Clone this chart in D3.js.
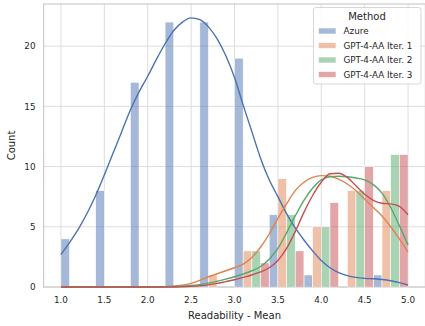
<!DOCTYPE html>
<html>
<head>
<meta charset="utf-8">
<script src="https://cdn.jsdelivr.net/npm/d3@7"></script>
<style>
  body { margin: 0; background: #fff; }
  text { font-family: "DejaVu Sans", sans-serif; fill: #262626; }
</style>
</head>
<body>
<script>
const width = 425;
const height = 326;

const methods = ["Azure", "GPT-4-AA Iter. 1", "GPT-4-AA Iter. 2", "GPT-4-AA Iter. 3"];
const colors = ["#4C72B0", "#DD8452", "#55A868", "#C44E52"];

// histogram bins (width 0.4) and counts per method
const binStarts = [1.0, 1.4, 1.8, 2.2, 2.6, 3.0, 3.4, 3.8, 4.2, 4.6];
const azureCounts = [4, 8, 17, 22, 22, 19, 6, 1, 0, 1];
const iter1Counts = [0, 0, 0, 0, 1, 3, 9, 5, 8, 8];
const iter2Counts = [0, 0, 0, 0, 0, 3, 6, 5, 8, 11];
const iter3Counts = [0, 0, 0, 0, 0, 2, 3, 7, 10, 11];

// kde curves
const kdeX = [1.0, 1.1, 1.2, 1.3, 1.4, 1.5, 1.6, 1.7, 1.8, 1.9,
  2.0, 2.1, 2.2, 2.3, 2.4, 2.5, 2.6, 2.7, 2.8, 2.9,
  3.0, 3.1, 3.2, 3.3, 3.4, 3.5, 3.6, 3.7, 3.8, 3.9,
  4.0, 4.1, 4.2, 4.3, 4.4, 4.5, 4.6, 4.7, 4.8, 4.9, 5.0];
const azureKde = [2.7, 3.7, 4.8, 6.1, 7.6, 9.3, 11.1, 12.9, 14.7, 16.2,
  17.5, 18.9, 20.2, 21.3, 22.0, 22.35, 22.2, 21.6, 20.6, 19.2,
  17.4, 15.1, 12.9, 10.7, 8.9, 7.5, 6.1, 4.9, 3.9, 3.0,
  2.2, 1.6, 1.2, 0.95, 0.8, 0.72, 0.68, 0.62, 0.52, 0.36, 0.17];
const iter1Kde = [0, 0, 0, 0, 0, 0, 0, 0, 0, 0,
  0, 0.01, 0.03, 0.07, 0.14, 0.3, 0.55, 0.85, 1.1, 1.35,
  1.6, 1.9, 2.45, 3.3, 4.4, 5.7, 6.9, 8.0, 8.7, 9.1,
  9.25, 9.2, 8.95, 8.55, 8.0, 7.3, 6.6, 5.9, 5.0, 4.0, 2.9];
const iter2Kde = [0, 0, 0, 0, 0, 0, 0, 0, 0, 0,
  0, 0, 0.02, 0.04, 0.07, 0.12, 0.2, 0.32, 0.48, 0.65,
  0.85, 1.08, 1.35, 1.7, 2.3, 3.2, 4.5, 5.9, 7.2, 8.2,
  8.9, 9.15, 9.2, 9.15, 9.05, 8.9, 8.5, 7.8, 6.6, 5.1, 3.5];
const iter3Kde = [0, 0, 0, 0, 0, 0, 0, 0, 0, 0,
  0, 0, 0, 0, 0.02, 0.05, 0.1, 0.18, 0.3, 0.45,
  0.6, 0.8, 1.0, 1.25, 1.6, 2.2, 3.2, 4.6, 6.2, 7.6,
  8.7, 9.4, 9.45, 9.1, 8.4, 7.7, 7.2, 6.95, 6.9, 6.7, 6.0];

const xTicks = [1.0, 1.5, 2.0, 2.5, 3.0, 3.5, 4.0, 4.5, 5.0];
const yTicks = [0, 5, 10, 15, 20];

const counts = [azureCounts, iter1Counts, iter2Counts, iter3Counts];
const kdes = [azureKde, iter1Kde, iter2Kde, iter3Kde];
const binWidth = 0.4;

const margin = {left: 43.6, right: 425.4, top: 4, bottom: 287};

const x = d3.scaleLinear().domain([0.8, 5.2]).range([margin.left, margin.right]);
const y = d3.scaleLinear().domain([0, 23.5]).range([margin.bottom, margin.top]);

const svg = d3.select("body").append("svg")
  .attr("width", width)
  .attr("height", height);

// grid
svg.append("g").selectAll("line")
  .data(xTicks).enter().append("line")
  .attr("x1", d => x(d)).attr("x2", d => x(d))
  .attr("y1", margin.top).attr("y2", margin.bottom)
  .attr("stroke", "#dddddd").attr("stroke-width", 1);
svg.append("g").selectAll("line")
  .data(yTicks).enter().append("line")
  .attr("x1", margin.left).attr("x2", margin.right)
  .attr("y1", d => y(d)).attr("y2", d => y(d))
  .attr("stroke", "#dddddd").attr("stroke-width", 1);

// spines
svg.append("rect")
  .attr("x", margin.left).attr("y", margin.top)
  .attr("width", margin.right - margin.left)
  .attr("height", margin.bottom - margin.top)
  .attr("fill", "none")
  .attr("stroke", "#cccccc").attr("stroke-width", 1.2);

// dodged histogram bars
const sub = d3.scaleBand().domain(d3.range(methods.length)).range([0, binWidth]).padding(0);

methods.forEach((m, j) => {
  svg.append("g").selectAll("rect")
    .data(binStarts.map((b, i) => ({b: b, v: counts[j][i]})).filter(d => d.v > 0))
    .enter().append("rect")
    .attr("x", d => x(d.b + sub(j)))
    .attr("width", d => x(d.b + sub(j) + sub.bandwidth()) - x(d.b + sub(j)))
    .attr("y", d => y(d.v))
    .attr("height", d => y(0) - y(d.v))
    .attr("fill", colors[j])
    .attr("fill-opacity", 0.5)
    .attr("stroke", "#fff")
    .attr("stroke-width", 0.6);
});

// kde lines
const line = d3.line()
  .x(d => x(d[0]))
  .y(d => y(d[1]))
  .curve(d3.curveMonotoneX);

methods.forEach((m, j) => {
  svg.append("path")
    .datum(kdeX.map((k, i) => [k, kdes[j][i]]))
    .attr("d", line)
    .attr("fill", "none")
    .attr("stroke", colors[j])
    .attr("stroke-width", 1.4);
});

// tick labels
svg.append("g").selectAll("text")
  .data(xTicks).enter().append("text")
  .attr("x", d => x(d)).attr("y", 303)
  .attr("text-anchor", "middle")
  .style("font-size", "8.8px")
  .text(d => d.toFixed(1));
svg.append("g").selectAll("text")
  .data(yTicks).enter().append("text")
  .attr("x", 35.5).attr("y", d => y(d) + 3.2)
  .attr("text-anchor", "end")
  .style("font-size", "8.8px")
  .text(d => d);

// axis labels
svg.append("text")
  .attr("x", (margin.left + margin.right) / 2).attr("y", 319)
  .attr("text-anchor", "middle")
  .style("font-size", "10px")
  .text("Readability - Mean");
svg.append("text")
  .attr("transform", `translate(15,${(margin.top + margin.bottom) / 2}) rotate(-90)`)
  .attr("text-anchor", "middle")
  .style("font-size", "10px")
  .text("Count");

// legend
const legend = svg.append("g").attr("transform", "translate(313.5,7.5)");
legend.append("rect")
  .attr("width", 107.5).attr("height", 76.5)
  .attr("rx", 2.5)
  .attr("fill", "#fff").attr("fill-opacity", 0.8)
  .attr("stroke", "#cccccc").attr("stroke-width", 0.8);
legend.append("text")
  .attr("x", 53.5).attr("y", 12)
  .attr("text-anchor", "middle")
  .style("font-size", "10px")
  .text("Method");
methods.forEach((m, j) => {
  const row = legend.append("g").attr("transform", `translate(0,${23.5 + j * 14.5})`);
  row.append("rect")
    .attr("x", 5).attr("y", -3)
    .attr("width", 17.5).attr("height", 6)
    .attr("fill", colors[j]).attr("fill-opacity", 0.5)
    .attr("stroke", "#fff").attr("stroke-width", 0.6);
  row.append("text")
    .attr("x", 30).attr("y", 3.2)
    .style("font-size", "8.8px")
    .text(m);
});
</script>
</body>
</html>
